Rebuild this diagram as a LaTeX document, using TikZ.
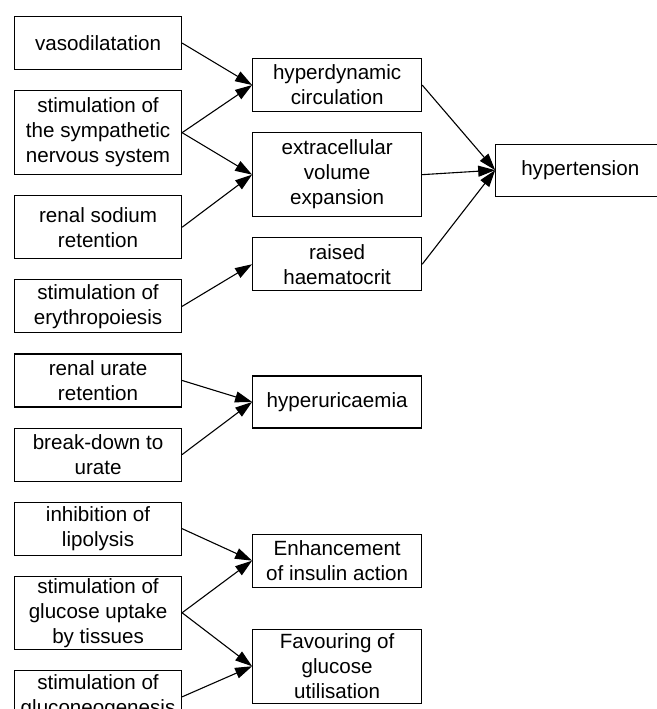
\documentclass[tikz,border=0pt]{standalone}
\usepackage{fontspec}
\setmainfont{Liberation Sans}
\usepackage{tikz}
\usetikzlibrary{arrows.meta,positioning,calc}

\begin{document}
\begin{tikzpicture}[font=\fontsize{10.3}{12.5}\selectfont,node distance=10pt,
  box/.style={draw,line width=0.55pt,minimum width=83.5pt,minimum height=26.5pt,inner xsep=2pt,inner ysep=0pt,align=center},
  rbox/.style={box,minimum width=84.5pt},
  arr/.style={-{Triangle[length=8.5pt,width=5.5pt]},line width=0.55pt}]
  \useasboundingbox (0,0) rectangle (328.5pt,-354.5pt);
  \node[box,anchor=north west] (vaso) at (7pt,-8pt) {vasodilatation};
  \node[box,below=of vaso,minimum height=42pt] (symp) {stimulation of\\the sympathetic\\nervous system};
  \node[box,below=of symp,minimum height=31.5pt] (sodium) {renal sodium\\retention};
  \node[box,below=of sodium] (ery) {stimulation of\\erythropoiesis};
  \node[box,below=of ery] (urate) {renal urate\\retention};
  \node[box,below=of urate] (brk) {break-down to\\urate};
  \node[box,below=of brk] (lipo) {inhibition of\\lipolysis};
  \node[box,below=of lipo,minimum height=36.5pt] (uptake) {stimulation of\\glucose uptake\\by tissues};
  \node[box,below=of uptake] (gneo) {stimulation of\\gluconeogenesis};
  \node[rbox,anchor=north west] (hyd) at ($(vaso.north east)+(35pt,-21pt)$) {hyperdynamic\\circulation};
  \node[rbox,below=of hyd,minimum height=42pt] (ecv) {extracellular\\volume\\expansion};
  \node[rbox,below=of ecv] (hct) {raised\\haematocrit};
  \node[rbox,right=36.5pt of ecv,yshift=2.25pt,minimum height=26pt] (htn) {hypertension};
  \node[rbox,anchor=north west,minimum height=26pt] (uric) at ($(urate.north east)+(35pt,-11pt)$) {hyperuricaemia};
  \node[rbox,anchor=north west] (ins) at ($(lipo.north east)+(35pt,-16pt)$) {Enhancement\\of insulin action};
  \node[rbox,below=20.5pt of ins,minimum height=37pt] (glu) {Favouring of\\glucose\\utilisation};
  \draw[arr] (vaso.east)--(hyd.west); \draw[arr] (symp.east)--(hyd.west);
  \draw[arr] (symp.east)--(ecv.west); \draw[arr] (sodium.east)--(ecv.west);
  \draw[arr] (ery.east)--(hct.west);
  \draw[arr] (hyd.east)--(htn.west); \draw[arr] (ecv.east)--(htn.west); \draw[arr] (hct.east)--(htn.west);
  \draw[arr] (urate.east)--(uric.west); \draw[arr] (brk.east)--(uric.west);
  \draw[arr] (lipo.east)--(ins.west); \draw[arr] (uptake.east)--(ins.west);
  \draw[arr] (uptake.east)--(glu.west); \draw[arr] (gneo.east)--(glu.west);
\end{tikzpicture}
\end{document}
